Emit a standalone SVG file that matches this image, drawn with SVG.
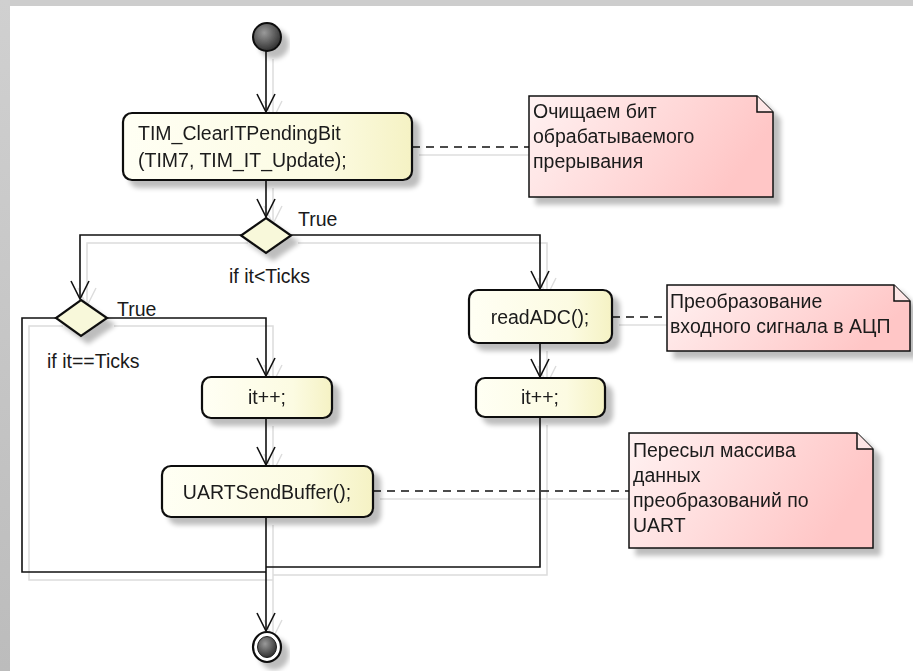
<svg xmlns="http://www.w3.org/2000/svg" width="913" height="671" viewBox="0 0 913 671">
<style>
text{font-family:"Liberation Sans",Arial,sans-serif;font-size:19.5px;fill:#1a1a1a}
.mid{text-anchor:middle}
.act{stroke:#111;stroke-width:2.2;fill:url(#actFill)}
.dec{stroke:#111;stroke-width:2.2;fill:#f8f8da}
.note{stroke:#111;stroke-width:1.5;fill:url(#noteFill)}
.fold{stroke:#111;stroke-width:1.5;fill:#fde6e6}
.edge{fill:none;stroke:#111;stroke-width:1.6}
.sh{fill:none;stroke:#dcdcdc;stroke-width:1.5}
.dash{fill:none;stroke:#111;stroke-width:1.5;stroke-dasharray:8 6}
.dashsh{fill:none;stroke:#dedede;stroke-width:1.3}
</style>
<defs>
<linearGradient id="actFill" x1="0" y1="0" x2="1" y2="0">
<stop offset="0" stop-color="#fffff4"/><stop offset="0.7" stop-color="#fcfbe2"/><stop offset="1" stop-color="#f5f2c4"/>
</linearGradient>
<linearGradient id="noteFill" x1="0" y1="0" x2="1" y2="0.3">
<stop offset="0" stop-color="#fff2f2"/><stop offset="1" stop-color="#ffc6c6"/>
</linearGradient>
<linearGradient id="leftBand" x1="0" y1="0" x2="0" y2="1">
<stop offset="0" stop-color="#d0d0d0"/><stop offset="1" stop-color="#bcbcbc"/>
</linearGradient>
<radialGradient id="ball" cx="0.4" cy="0.35" r="0.7">
<stop offset="0" stop-color="#9a9a9a"/><stop offset="1" stop-color="#2a2a2a"/>
</radialGradient>
<filter id="shadow" x="-20%" y="-30%" width="150%" height="180%">
<feGaussianBlur in="SourceAlpha" stdDeviation="2.5"/>
<feOffset dx="7" dy="7" result="o"/>
<feComponentTransfer><feFuncA type="linear" slope="0.26"/></feComponentTransfer>
<feMerge><feMergeNode/><feMergeNode in="SourceGraphic"/></feMerge>
</filter>
<marker id="arr" markerUnits="userSpaceOnUse" markerWidth="24" markerHeight="24" refX="0" refY="0" viewBox="-20 -12 22 24" orient="auto">
<path d="M-18,-9 L0,0 L-18,9" fill="none" stroke="#111" stroke-width="1.6"/>
</marker>
<marker id="arrsh" markerUnits="userSpaceOnUse" markerWidth="24" markerHeight="24" refX="0" refY="0" viewBox="-20 -12 22 24" orient="auto">
<path d="M-18,-9 L0,0 L-18,9" fill="none" stroke="#dcdcdc" stroke-width="1.4"/>
</marker>
</defs>

<rect x="0" y="0" width="913" height="671" fill="#ffffff"/>
<rect x="0" y="0" width="913" height="6" fill="#cdcdcd"/>
<rect x="0" y="0" width="10" height="671" fill="url(#leftBand)"/>

<g id="connector-shadows" transform="translate(7,8)">
<path class="sh" d="M266,51 V111" marker-end="url(#arrsh)"/>
<path class="sh" d="M266,180 V216" marker-end="url(#arrsh)"/>
<path class="sh" d="M291,235 H540 V288" marker-end="url(#arrsh)"/>
<path class="sh" d="M241,235 H80 V298" marker-end="url(#arrsh)"/>
<path class="sh" d="M107,318 H266 V375" marker-end="url(#arrsh)"/>
<path class="sh" d="M56,318 H22 V572 H266"/>
<path class="sh" d="M540,343 V376" marker-end="url(#arrsh)"/>
<path class="sh" d="M540,417 V567 H266"/>
<path class="sh" d="M266,418 V464" marker-end="url(#arrsh)"/>
<path class="sh" d="M266,517 V630" marker-end="url(#arrsh)"/>
<path class="dashsh" d="M412,147 H529"/>
<path class="dashsh" d="M612,317 H667"/>
<path class="dashsh" d="M373,491 H629"/>
</g>

<g id="connectors">
<path class="edge" d="M266,51 V112" marker-end="url(#arr)"/>
<path class="edge" d="M266,180 V217" marker-end="url(#arr)"/>
<path class="edge" d="M291,235 H540 V289" marker-end="url(#arr)"/>
<path class="edge" d="M241,235 H80 V299" marker-end="url(#arr)"/>
<path class="edge" d="M107,318 H266 V376" marker-end="url(#arr)"/>
<path class="edge" d="M56,318 H22 V572 H266"/>
<path class="edge" d="M540,343 V377" marker-end="url(#arr)"/>
<path class="edge" d="M540,417 V567 H266"/>
<path class="edge" d="M266,418 V465" marker-end="url(#arr)"/>
<path class="edge" d="M266,517 V631" marker-end="url(#arr)"/>
<path class="dash" d="M412,147 H529"/>
<path class="dash" d="M612,317 H667"/>
<path class="dash" d="M373,491 H629"/>
</g>

<g id="start" filter="url(#shadow)">
<circle cx="267" cy="37" r="14" fill="url(#ball)" stroke="#111" stroke-width="2"/>
</g>

<g id="clearBit" filter="url(#shadow)">
<rect class="act" x="123" y="113" width="289" height="67" rx="9"/>
<text x="138" y="140">TIM_ClearITPendingBit</text>
<text x="138" y="167">(TIM7, TIM_IT_Update);</text>
</g>

<g id="note1" filter="url(#shadow)">
<path class="note" d="M529,96 H757 L773,112 V197 H529 Z"/>
<path class="fold" d="M757,96 V112 H773"/>
<text x="533" y="118">Очищаем бит</text>
<text x="533" y="143">обрабатываемого</text>
<text x="533" y="168">прерывания</text>
</g>

<g id="decision1" filter="url(#shadow)">
<path class="dec" d="M266,218 L291,235.5 L266,253 L241,235.5 Z"/>
</g>
<g id="label-true1"><text x="298" y="226">True</text></g>
<g id="label-cond1"><text x="229" y="283">if it&lt;Ticks</text></g>

<g id="decision2" filter="url(#shadow)">
<path class="dec" d="M81,300 L107,318 L81,336 L56,318 Z"/>
</g>
<g id="label-true2"><text x="117" y="316">True</text></g>
<g id="label-cond2"><text x="47" y="368">if it==Ticks</text></g>

<g id="readADC" filter="url(#shadow)">
<rect class="act" x="469" y="290" width="143" height="53" rx="9"/>
<text class="mid" x="540" y="324">readADC();</text>
</g>

<g id="note2" filter="url(#shadow)">
<path class="note" d="M667,285 H894 L910,301 V351 H667 Z"/>
<path class="fold" d="M894,285 V301 H910"/>
<text x="670" y="308">Преобразование</text>
<text x="670" y="333">входного сигнала в АЦП</text>
</g>

<g id="incRight" filter="url(#shadow)">
<rect class="act" x="476" y="378" width="129" height="39" rx="9"/>
<text class="mid" x="540" y="404">it++;</text>
</g>

<g id="incLeft" filter="url(#shadow)">
<rect class="act" x="202" y="377" width="130" height="41" rx="9"/>
<text class="mid" x="267" y="404">it++;</text>
</g>

<g id="uartSend" filter="url(#shadow)">
<rect class="act" x="162" y="466" width="211" height="51" rx="9"/>
<text class="mid" x="267" y="499">UARTSendBuffer();</text>
</g>

<g id="note3" filter="url(#shadow)">
<path class="note" d="M629,433 H857 L873,449 V548 H629 Z"/>
<path class="fold" d="M857,433 V449 H873"/>
<text x="633" y="457">Пересыл массива</text>
<text x="633" y="482">данных</text>
<text x="633" y="507">преобразований по</text>
<text x="633" y="532">UART</text>
</g>

<g id="final" filter="url(#shadow)">
<ellipse cx="267" cy="647" rx="14" ry="15" fill="#ffffff" stroke="#111" stroke-width="2.2"/>
<ellipse cx="267" cy="647" rx="9.5" ry="10.5" fill="url(#ball)" stroke="#222" stroke-width="1"/>
</g>
</svg>
